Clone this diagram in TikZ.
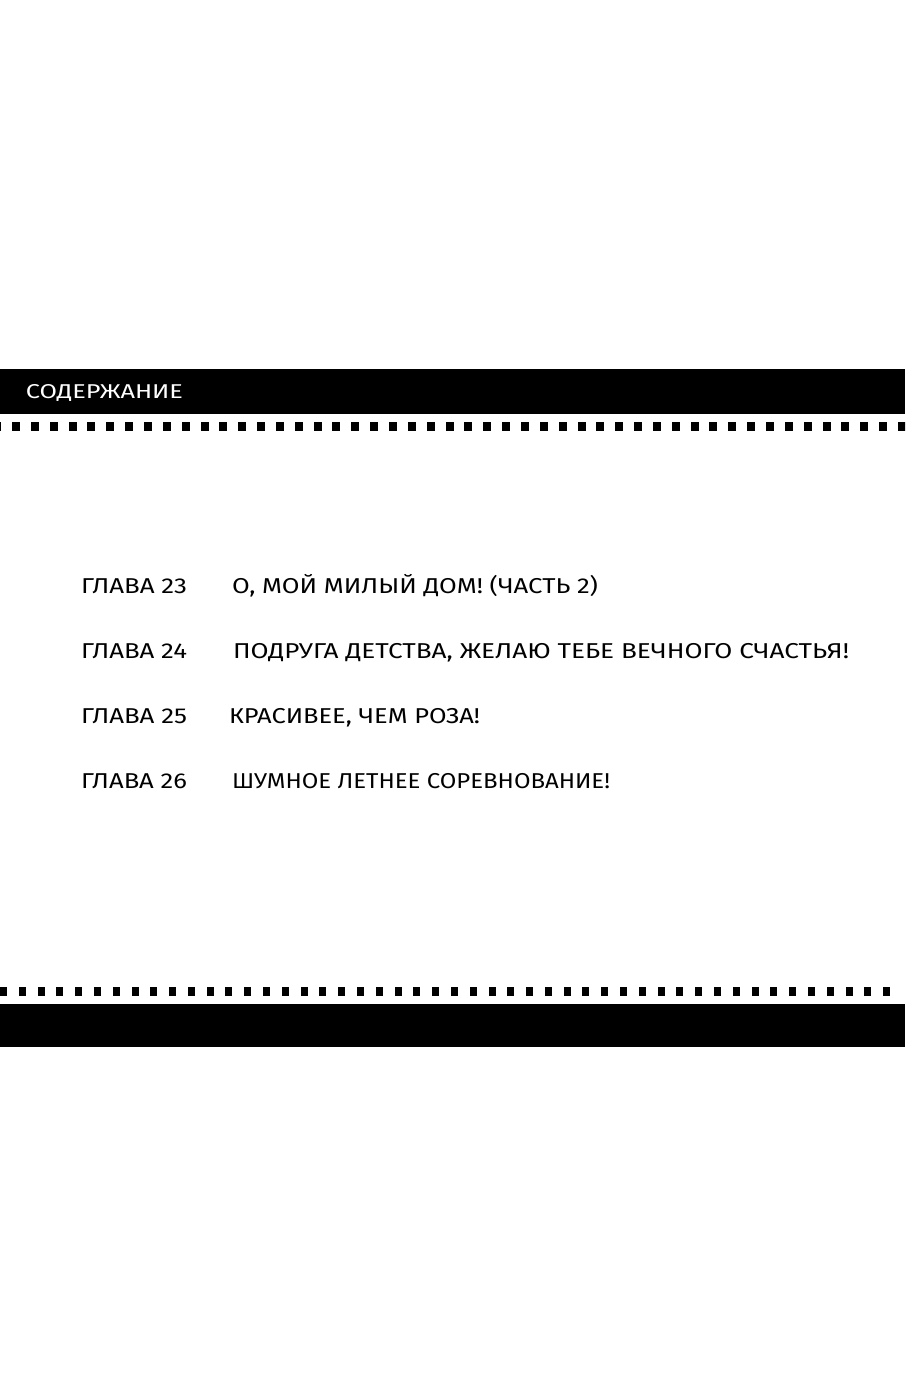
\documentclass[tikz,border=0pt]{standalone}
\usepackage{fontspec}
\setmainfont{Fira Sans}
\usepackage{graphicx}
\tikzset{
  bar/.style={fill=black,draw=none},
  sq/.style={fill=black,draw=none},
  chap/.style={anchor=base west,inner sep=0pt,outer sep=0pt,font=\fontsize{21.5}{24}\selectfont},
  head/.style={anchor=base west,inner sep=0pt,outer sep=0pt,text=white,font=\fontsize{20}{24}\selectfont}
}
\newcommand{\fitw}[2]{\resizebox{#1pt}{\height}{#2}}
\begin{document}
\begin{tikzpicture}[x=1pt,y=-1pt]
\useasboundingbox (0,0) rectangle (905,1400);
\begin{scope}
\clip (0,0) rectangle (905,1400);
% top bar
\fill[bar] (0,369) rectangle (905,414);
\foreach \k in {-1,...,47} {
  \fill[sq] ({12+18.85*\k},422) rectangle ({20+18.85*\k},431);
}
% bottom
\foreach \k in {0,...,47} {
  \fill[sq] ({18.79*\k},987) rectangle ({7+18.79*\k},996);
}
\fill[bar] (0,1004) rectangle (905,1047);
\end{scope}
\node[head] (title) at (26,398) {\fitw{157}{СОДЕРЖАНИЕ}};
\node[chap] (c1) at (81,593) {\fitw{106}{ГЛАВА 23}};
\node[chap] (t1) at (232,593) {\fitw{366}{О, МОЙ МИЛЫЙ ДОМ! (ЧАСТЬ 2)}};
\node[chap] (c2) at (81,658) {\fitw{106}{ГЛАВА 24}};
\node[chap] (t2) at (233,658) {\fitw{616}{ПОДРУГА ДЕТСТВА, ЖЕЛАЮ ТЕБЕ ВЕЧНОГО СЧАСТЬЯ!}};
\node[chap] (c3) at (81,723) {\fitw{106}{ГЛАВА 25}};
\node[chap] (t3) at (229,723) {\fitw{251}{КРАСИВЕЕ, ЧЕМ РОЗА!}};
\node[chap] (c4) at (81,788) {\fitw{106}{ГЛАВА 26}};
\node[chap] (t4) at (232,788) {\fitw{378}{ШУМНОЕ ЛЕТНЕЕ СОРЕВНОВАНИЕ!}};
\end{tikzpicture}
\end{document}
